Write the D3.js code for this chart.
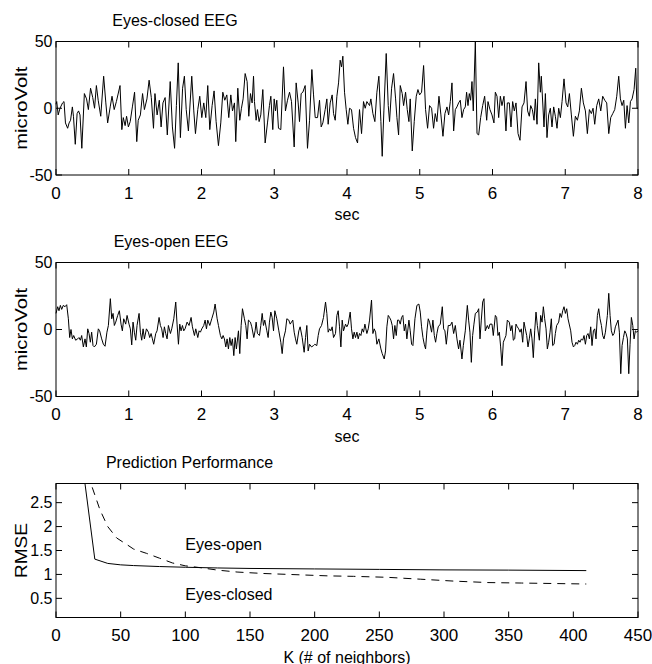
<!DOCTYPE html>
<html>
<head>
<meta charset="utf-8">
<script src="https://cdn.jsdelivr.net/npm/d3@7"></script>
<style>
  body { margin: 0; background: #fff; }
  svg text { font-family: "Liberation Sans", Arial, Helvetica, sans-serif; fill: #000; }
</style>
</head>
<body>
<svg id="fig" width="652" height="664"></svg>
<script>
// ---- tick values ----
const secTicks = [0, 1, 2, 3, 4, 5, 6, 7, 8];
const uvTicks = [-50, 0, 50];
const kTicks = [0, 50, 100, 150, 200, 250, 300, 350, 400, 450];
const rmseTicks = [0.5, 1, 1.5, 2, 2.5];

// ---- EEG traces: [time (s), amplitude (microVolt)] ----
const eyesClosed = [
  [0,3],[0.01,5],[0.03,-5],[0.055,0],[0.09,4],[0.11,5],[0.13,-11],[0.16,-15],[0.18,-11],[0.2,-9],
  [0.225,1],[0.24,-6],[0.265,-27],[0.29,-4],[0.31,-2],[0.33,-5],[0.355,-30],[0.39,11],[0.42,7],[0.445,-1],
  [0.475,15],[0.505,8],[0.53,0],[0.555,17],[0.58,6],[0.615,-6],[0.655,24],[0.685,4],[0.71,-11],[0.745,1],
  [0.77,9],[0.8,-1],[0.83,5],[0.88,17],[0.905,-16],[0.925,-7],[0.95,-13],[0.97,-6],[0.995,-14],[1.02,-10],
  [1.05,1],[1.08,12],[1.11,-25],[1.13,-9],[1.16,-5],[1.19,11],[1.215,-1],[1.25,7],[1.28,21],[1.31,8],
  [1.34,-15],[1.36,11],[1.39,-5],[1.42,6],[1.445,-14],[1.47,4],[1.5,8],[1.53,-20],[1.57,20],[1.6,-14],
  [1.63,-30],[1.655,2],[1.68,34],[1.71,-22],[1.74,15],[1.765,24],[1.79,-1],[1.82,-17],[1.866,24],[1.894,-2],
  [1.917,-19],[1.949,-1],[1.976,9],[2.004,-7],[2.031,4],[2.059,-7],[2.086,17],[2.114,-16],[2.146,2],[2.173,13],
  [2.201,-10],[2.233,-28],[2.265,-11],[2.293,12],[2.32,6],[2.348,10],[2.375,-7],[2.403,10],[2.426,-2],[2.453,4],
  [2.471,-25],[2.499,15],[2.526,-9],[2.549,0],[2.572,7],[2.6,26],[2.627,20],[2.65,-6],[2.673,11],[2.696,4],
  [2.715,24],[2.728,5],[2.751,-9],[2.769,-1],[2.792,-10],[2.815,-5],[2.843,14],[2.875,-26],[2.907,-11],[2.934,2],
  [2.953,9],[2.98,-16],[2.999,7],[3.017,-2],[3.035,6],[3.058,-15],[3.09,-16],[3.127,31],[3.154,-2],[3.182,6],
  [3.21,12],[3.237,5],[3.274,-29],[3.301,19],[3.329,4],[3.347,-10],[3.37,11],[3.393,12],[3.425,17],[3.457,-30],
  [3.485,-9],[3.517,29],[3.54,10],[3.563,-7],[3.595,-7],[3.622,6],[3.645,-14],[3.668,-11],[3.7,-1],[3.723,7],
  [3.741,-12],[3.769,4],[3.796,10],[3.815,-4],[3.838,-9],[3.861,9],[3.884,19],[3.906,36],[3.925,31],[3.943,39],
  [3.966,12],[3.989,-1],[4.012,-12],[4.035,0],[4.062,-1],[4.09,-15],[4.117,-22],[4.145,-26],[4.172,-1],[4.2,-19],
  [4.227,5],[4.25,0],[4.273,5],[4.31,2],[4.328,7],[4.356,-4],[4.383,-10],[4.411,12],[4.438,24],[4.466,-10],
  [4.484,-36],[4.507,-2],[4.539,41],[4.567,2],[4.585,-10],[4.613,15],[4.64,26],[4.668,7],[4.686,-7],[4.709,-20],
  [4.732,17],[4.759,11],[4.778,2],[4.805,12],[4.828,-1],[4.851,-10],[4.869,7],[4.897,-32],[4.924,-10],[4.952,9],
  [4.975,14],[4.998,10],[5.025,12],[5.053,32],[5.08,-1],[5.108,-15],[5.135,2],[5.163,0],[5.19,-15],[5.213,-4],
  [5.236,-10],[5.264,9],[5.291,-5],[5.319,-21],[5.346,-4],[5.374,1],[5.397,-5],[5.42,5],[5.443,19],[5.466,-17],
  [5.489,-1],[5.511,1],[5.534,4],[5.557,6],[5.58,-7],[5.603,-1],[5.626,1],[5.644,12],[5.663,2],[5.681,11],
  [5.699,6],[5.718,20],[5.736,-2],[5.764,50],[5.787,-19],[5.81,-20],[5.837,-7],[5.865,2],[5.892,9],[5.92,-9],
  [5.938,5],[5.965,-1],[5.993,-5],[6.02,-11],[6.039,12],[6.062,9],[6.085,-7],[6.108,9],[6.13,2],[6.158,9],
  [6.185,-17],[6.204,4],[6.231,4],[6.254,-14],[6.277,5],[6.3,-2],[6.323,4],[6.351,-19],[6.378,-24],[6.406,1],
  [6.433,4],[6.461,20],[6.483,-2],[6.506,-6],[6.525,2],[6.548,-1],[6.571,-9],[6.589,7],[6.612,-12],[6.635,34],
  [6.658,12],[6.671,24],[6.708,-14],[6.727,11],[6.749,-22],[6.772,-5],[6.795,0],[6.818,-14],[6.841,1],[6.864,-6],
  [6.887,-15],[6.91,0],[6.933,-7],[6.956,5],[6.983,22],[7.011,4],[7.034,1],[7.057,11],[7.084,-5],[7.112,-21],
  [7.139,-6],[7.167,-9],[7.194,-2],[7.222,15],[7.249,4],[7.277,-2],[7.304,-19],[7.332,-1],[7.359,-4],[7.382,0],
  [7.405,-12],[7.433,2],[7.46,7],[7.488,-2],[7.515,9],[7.543,6],[7.57,4],[7.598,-19],[7.625,-7],[7.653,-4],
  [7.68,-1],[7.708,9],[7.735,24],[7.758,7],[7.781,2],[7.804,6],[7.827,-15],[7.85,2],[7.873,-11],[7.896,5],
  [7.919,7],[7.946,14],[7.969,30],[7.987,0],[8,0]
];

const eyesOpen = [
  [0,12],[0.023,17],[0.041,14],[0.06,18],[0.078,15],[0.1,18],[0.124,17],[0.147,18.5],[0.17,8],[0.188,-6],
  [0.206,0],[0.225,-7],[0.243,-4.5],[0.27,-8],[0.298,-7],[0.316,-6],[0.335,-8],[0.353,-4.5],[0.376,-13],[0.399,-7],
  [0.417,-13],[0.436,0.5],[0.454,-3],[0.472,-9.5],[0.49,-2],[0.509,-12],[0.527,-13],[0.555,-11],[0.582,0.5],[0.6,-1],
  [0.628,-7],[0.651,-11],[0.674,-12.5],[0.7,-2],[0.72,3],[0.747,23],[0.766,8],[0.784,12],[0.802,3],[0.821,5.5],
  [0.848,10.5],[0.871,14],[0.894,4],[0.912,-1],[0.931,8],[0.958,4],[0.977,10.5],[1.004,4],[1.022,0.5],[1.041,-11.5],
  [1.059,5.5],[1.077,-2],[1.096,-8],[1.114,3],[1.142,12],[1.16,-2],[1.178,-8],[1.197,0.5],[1.215,-7],[1.243,0.5],
  [1.27,-2],[1.288,-6],[1.307,-3],[1.325,-7],[1.343,-11],[1.371,-3],[1.389,-1],[1.417,9],[1.435,3],[1.453,0.5],
  [1.472,-6],[1.49,2],[1.508,-3],[1.527,-7],[1.545,3],[1.573,-3],[1.591,0.5],[1.619,8],[1.646,20.5],[1.664,4],
  [1.683,-11],[1.701,4],[1.719,-1],[1.738,3],[1.756,-1],[1.774,0.5],[1.802,5.5],[1.829,3],[1.857,9],[1.875,2],
  [1.903,-4.5],[1.921,0.5],[1.949,-6],[1.967,-1],[1.985,-2],[2.004,0.5],[2.031,3],[2.05,7],[2.068,0.5],[2.086,7],
  [2.114,3],[2.141,8],[2.169,13],[2.187,19],[2.215,8],[2.233,3],[2.26,-4.5],[2.279,-7],[2.297,-4.5],[2.315,-7],
  [2.334,-13],[2.352,-7],[2.37,-14.5],[2.389,-6],[2.407,-12],[2.425,-7],[2.444,-19.5],[2.462,-6],[2.48,-14.5],[2.508,-1],
  [2.526,-18],[2.545,3],[2.563,15.5],[2.59,8],[2.609,3],[2.627,-7],[2.645,7],[2.673,5.5],[2.691,2],[2.719,-6],
  [2.737,-1],[2.751,5.5],[2.769,-3],[2.797,-4.5],[2.815,3],[2.834,12],[2.852,3],[2.87,7],[2.898,-1],[2.916,-6],
  [2.934,5.5],[2.953,13],[2.971,9],[2.99,-1],[3.008,14],[3.035,8],[3.063,-1],[3.09,-9.5],[3.109,-18],[3.127,-7],
  [3.154,-1],[3.173,8],[3.2,7],[3.219,4],[3.237,5.5],[3.255,7],[3.274,-2],[3.292,-7],[3.31,-11],[3.338,-1],
  [3.356,2],[3.384,-6],[3.411,-17],[3.43,-6],[3.448,3],[3.466,-16],[3.485,-11],[3.512,-13],[3.54,-12],[3.558,-11],
  [3.585,-12],[3.604,-4.5],[3.622,0.5],[3.65,3],[3.677,9],[3.705,20.5],[3.723,12],[3.741,-2],[3.76,0.5],[3.778,-1],
  [3.796,2],[3.815,-6],[3.842,-3],[3.861,10.5],[3.879,14],[3.897,2],[3.916,-13],[3.934,7],[3.952,-1],[3.98,4],
  [3.998,2],[4.016,4],[4.044,13],[4.062,0.5],[4.081,-7],[4.099,-2],[4.117,-6],[4.136,-2],[4.154,-7],[4.172,-3],
  [4.191,-4.5],[4.209,0.5],[4.227,-2],[4.246,4],[4.273,-3],[4.292,0.5],[4.31,7],[4.337,22],[4.356,-3],[4.374,0.5],
  [4.393,-2],[4.411,-11],[4.438,-7],[4.466,-14.5],[4.484,-18],[4.512,-22],[4.53,-16],[4.548,2],[4.567,10.5],[4.585,9],
  [4.603,7],[4.622,3],[4.64,-7],[4.658,3],[4.677,-4.5],[4.695,7],[4.713,7],[4.732,4],[4.75,9],[4.768,10.5],
  [4.787,-1],[4.805,4],[4.823,-7],[4.851,7],[4.869,-1],[4.888,-11],[4.906,-12],[4.934,8],[4.961,18],[4.988,19],
  [5.007,13],[5.025,2],[5.044,-6],[5.062,-11],[5.08,-14.5],[5.099,-1],[5.117,8],[5.135,5.5],[5.163,-2],[5.181,7],
  [5.2,-4.5],[5.218,-9.5],[5.236,-3],[5.254,2],[5.282,4],[5.31,17],[5.328,0.5],[5.346,-1],[5.365,-11],[5.392,3],
  [5.42,3],[5.443,5.5],[5.466,-3],[5.489,3],[5.511,-7],[5.534,-14.5],[5.553,-8],[5.58,-22],[5.599,-12],[5.626,-1],
  [5.654,18],[5.672,7],[5.69,-2],[5.709,-24.5],[5.727,-4.5],[5.745,4],[5.764,12],[5.791,13],[5.81,15.5],[5.828,-7],
  [5.846,7],[5.865,20.5],[5.883,23],[5.901,-1],[5.929,3],[5.947,0.5],[5.965,4],[5.993,4],[6.011,-4.5],[6.039,10.5],
  [6.057,9],[6.075,-4.5],[6.094,-2],[6.112,-13],[6.13,-27],[6.149,-9.5],[6.167,-7],[6.185,-4.5],[6.204,7],[6.231,5.5],
  [6.25,-1],[6.268,3],[6.286,-8],[6.305,-7],[6.323,4],[6.341,2],[6.36,0.5],[6.378,-2],[6.396,0.5],[6.415,-9.5],
  [6.433,5.5],[6.451,0.5],[6.47,-4.5],[6.488,-13],[6.506,-7],[6.525,0.5],[6.543,-7],[6.561,-21],[6.58,-1],[6.598,13],
  [6.616,3],[6.644,-8],[6.662,10.5],[6.681,5.5],[6.699,17],[6.717,8],[6.736,0.5],[6.754,-14.5],[6.772,-9.5],[6.791,-2],
  [6.809,8],[6.827,-12],[6.846,-11],[6.864,-3],[6.882,3],[6.91,5.5],[6.928,12],[6.947,9],[6.965,14],[6.983,17],
  [7.002,12],[7.02,15.5],[7.038,8],[7.075,-1],[7.093,-9.5],[7.112,-13],[7.13,-12],[7.148,-9.5],[7.167,-11],[7.185,-8],
  [7.203,-9.5],[7.222,-7],[7.24,-8],[7.258,-4.5],[7.277,-11],[7.295,-4.5],[7.313,-3],[7.332,-7],[7.35,2],[7.368,-12],
  [7.387,-1],[7.405,0.5],[7.423,-7],[7.442,10.5],[7.46,15.5],[7.478,8],[7.497,3],[7.515,-4.5],[7.533,-7],[7.552,-2],
  [7.579,10.5],[7.598,27],[7.616,10.5],[7.634,-1],[7.653,-4.5],[7.671,-3],[7.689,2],[7.726,7],[7.744,-2],[7.763,-33],
  [7.781,-12],[7.8,-6],[7.818,-1],[7.836,-3],[7.854,-7],[7.873,-33],[7.891,-11],[7.909,9],[7.928,3],[7.946,-7],
  [7.964,-1],[7.983,-2],[8,-1]
];

// ---- prediction error vs. number of neighbours ----
const kSolid    = [20, 30, 40, 50, 60, 80, 100, 125, 150, 200, 250, 300, 350, 410];
const rmseSolid = [3.4, 1.32, 1.23, 1.2, 1.185, 1.165, 1.15, 1.135, 1.125, 1.115, 1.105, 1.095, 1.09, 1.08];
const kDashed    = [28, 34, 40, 47, 55, 60, 70, 80, 90, 100, 112, 125, 140, 160, 190, 210, 230, 256, 282, 308, 334, 360, 385, 410];
const rmseDashed = [2.82, 2.35, 2.0, 1.76, 1.62, 1.53, 1.44, 1.34, 1.24, 1.18, 1.14, 1.09, 1.05, 1.02, 0.99, 0.97, 0.96, 0.94, 0.9, 0.86, 0.83, 0.82, 0.81, 0.8];

// ---- layout ----
const svg = d3.select("#fig");
const plotLeft = 56, plotRight = 638, tickLen = 6, fontSize = 16, xTickFont = 17;

function drawFrame(g, x, y, xt, yt, xFmt, yFmt) {
  const [x0, x1] = x.range(), [y0, y1] = y.range();   // y0 = bottom, y1 = top
  g.append("rect").attr("x", x0).attr("y", y1).attr("width", x1 - x0).attr("height", y0 - y1)
    .attr("fill", "none").attr("stroke", "#000").attr("stroke-width", 1);
  const ticks = g.append("g").attr("stroke", "#000").attr("stroke-width", 1);
  xt.forEach(v => {
    const px = x(v);
    ticks.append("line").attr("x1", px).attr("x2", px).attr("y1", y0).attr("y2", y0 - tickLen);
    ticks.append("line").attr("x1", px).attr("x2", px).attr("y1", y1).attr("y2", y1 + tickLen);
    g.append("text").attr("x", px).attr("y", y0 + 23.5).attr("text-anchor", "middle")
      .attr("font-size", xTickFont).text(xFmt(v));
  });
  yt.forEach(v => {
    const py = y(v);
    ticks.append("line").attr("x1", x0).attr("x2", x0 + tickLen).attr("y1", py).attr("y2", py);
    ticks.append("line").attr("x1", x1).attr("x2", x1 - tickLen).attr("y1", py).attr("y2", py);
    g.append("text").attr("x", x0 - 3.5).attr("y", py).attr("dy", "0.36em").attr("text-anchor", "end")
      .attr("font-size", fontSize).text(yFmt(v));
  });
}

function drawYLabel(g, text, cy, len) {
  g.append("text").attr("transform", `translate(27,${cy}) rotate(-90)`)
    .attr("text-anchor", "middle").attr("font-size", fontSize)
    .attr("textLength", len).attr("lengthAdjust", "spacingAndGlyphs").text(text);
}

// ---- EEG panels ----
const eegPanels = [
  { data: eyesClosed, top: 41.5, bottom: 175, title: "Eyes-closed EEG", titleX: 175, titleY: 26 },
  { data: eyesOpen,   top: 262.5, bottom: 396.5, title: "Eyes-open EEG", titleX: 171, titleY: 247 }
];

eegPanels.forEach(p => {
  const g = svg.append("g");
  const x = d3.scaleLinear().domain([0, 8]).range([plotLeft, plotRight]);
  const y = d3.scaleLinear().domain([-50, 50]).range([p.bottom, p.top]);
  g.append("path").datum(p.data)
    .attr("d", d3.line().x(d => x(d[0])).y(d => y(d[1])))
    .attr("fill", "none").attr("stroke", "#000").attr("stroke-width", 1).attr("stroke-linejoin", "round");
  drawFrame(g, x, y, secTicks, uvTicks, d => String(d), d => String(d));
  g.append("text").attr("x", p.titleX).attr("y", p.titleY).attr("text-anchor", "middle")
    .attr("font-size", fontSize).text(p.title);
  g.append("text").attr("x", (plotLeft + plotRight) / 2).attr("y", p.bottom + 45)
    .attr("text-anchor", "middle").attr("font-size", fontSize).text("sec");
  drawYLabel(g, "microVolt", (p.top + p.bottom) / 2, 83);
});

// ---- prediction performance panel ----
{
  const top = 483.5, bottom = 617.5;
  const g = svg.append("g");
  const x = d3.scaleLinear().domain([0, 450]).range([plotLeft, plotRight]);
  const y = d3.scaleLinear().domain([0.1, 2.9]).range([bottom, top]);
  g.append("clipPath").attr("id", "perfClip").append("rect")
    .attr("x", plotLeft).attr("y", top).attr("width", plotRight - plotLeft).attr("height", bottom - top);
  const line = d3.line().x(d => x(d[0])).y(d => y(d[1]));
  const lines = g.append("g").attr("clip-path", "url(#perfClip)");
  lines.append("path").datum(d3.zip(kSolid, rmseSolid)).attr("d", line)
    .attr("fill", "none").attr("stroke", "#000").attr("stroke-width", 1);
  lines.append("path").datum(d3.zip(kDashed, rmseDashed)).attr("d", line)
    .attr("fill", "none").attr("stroke", "#000").attr("stroke-width", 1).attr("stroke-dasharray", "8,6");
  drawFrame(g, x, y, kTicks, rmseTicks, d => String(d), d => String(d));
  g.append("text").attr("x", 189.5).attr("y", 468).attr("text-anchor", "middle")
    .attr("font-size", fontSize).text("Prediction Performance");
  g.append("text").attr("x", x(100)).attr("y", y(1.52)).attr("font-size", fontSize).text("Eyes-open");
  g.append("text").attr("x", x(100)).attr("y", y(0.46)).attr("font-size", fontSize).text("Eyes-closed");
  g.append("text").attr("x", (plotLeft + plotRight) / 2).attr("y", bottom + 45)
    .attr("text-anchor", "middle").attr("font-size", fontSize).text("K (# of neighbors)");
  drawYLabel(g, "RMSE", (top + bottom) / 2, 55);
}
</script>
</body>
</html>
